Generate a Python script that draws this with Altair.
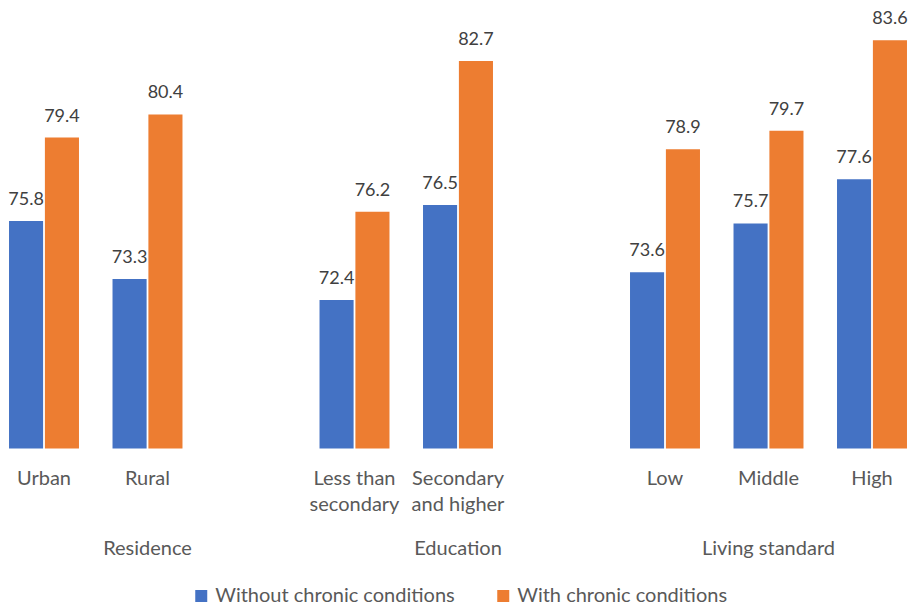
import altair as alt
import pandas as pd

# ---- data ----
categories = ["Urban", "Rural", "Less than\nsecondary", "Secondary\nand higher", "Low", "Middle", "High"]
groups = ["Residence", "Residence", "Education", "Education", "Living standard", "Living standard", "Living standard"]
without_chronic = [75.8, 73.3, 72.4, 76.5, 73.6, 75.7, 77.6]
with_chronic = [79.4, 80.4, 76.2, 82.7, 78.9, 79.7, 83.6]
series_names = ["Without chronic conditions", "With chronic conditions"]
series_colors = ["#4472C4", "#ED7D31"]

# slot order on the axis, blank spacers between groups
slot_order = ["Urban", "Rural", " ", "Less than\nsecondary", "Secondary\nand higher", "  ",
              "Low", "Middle", "High"]
group_names = ["Residence", "Education", "Living standard"]
group_center_slot = ["Rural", "Secondary\nand higher", "Middle"]
y_base = 66
y_top = 85.33

rows = []
for c, g, a, b in zip(categories, groups, without_chronic, with_chronic):
    rows.append({"slot": c, "group": g, "series": series_names[0], "value": a, "label": f"{a:.1f}"})
    rows.append({"slot": c, "group": g, "series": series_names[1], "value": b, "label": f"{b:.1f}"})
df = pd.DataFrame(rows)
gdf = pd.DataFrame({"slot": group_center_slot, "name": group_names})

FONT = "Lato"
H = 448.5

x_enc = alt.X("slot:N", sort=slot_order,
              scale=alt.Scale(domain=slot_order, paddingInner=0.324, paddingOuter=0.162),
              axis=alt.Axis(title=None, domain=False, ticks=False, grid=False, labelAngle=0,
                            labelFont=FONT, labelFontSize=20, labelColor="#595959",
                            labelPadding=20, labelLineHeight=26, labelBaseline="top",
                            labelExpr="split(datum.label, '\\n')"))
xoff = alt.XOffset("series:N", sort=series_names,
                   scale=alt.Scale(domain=series_names, paddingInner=0.05, paddingOuter=0))
y_enc = alt.Y("value:Q", scale=alt.Scale(domain=[y_base, y_top], zero=False, nice=False),
              axis=None)

bars = alt.Chart(df).mark_bar(clip=False).encode(
    x=x_enc, xOffset=xoff, y=y_enc, y2=alt.datum(y_base),
    color=alt.Color("series:N", sort=series_names,
                    scale=alt.Scale(domain=series_names, range=series_colors),
                    legend=alt.Legend(title=None, orient="none", direction="horizontal",
                                      legendX=199, legendY=586, padding=0,
                                      symbolType="square", symbolSize=144, symbolStrokeWidth=0,
                                      labelFont=FONT, labelFontSize=20, labelColor="#595959",
                                      labelOffset=4, columnPadding=38, labelLimit=500)),
)

labels = alt.Chart(df).mark_text(font=FONT, fontSize=18, color="#404040",
                                  baseline="alphabetic", dy=-16).encode(
    x=x_enc, xOffset=xoff, y=y_enc, text="label:N")

group_labels = alt.Chart(gdf).mark_text(font=FONT, fontSize=20, color="#595959",
                                        baseline="alphabetic").encode(
    x=x_enc, y=alt.value(555), text="name:N")

chart = alt.layer(bars, labels, group_labels).properties(
    width=931.5, height=H,
    background="white",
    autosize=alt.AutoSizeParams(type="none"),
    padding={"left": -7.75, "right": -12.75, "top": 0, "bottom": 158.5},
).configure_view(strokeWidth=0, stroke="transparent")

chart.save("out.html", embed_options={"renderer": "svg", "actions": False})
